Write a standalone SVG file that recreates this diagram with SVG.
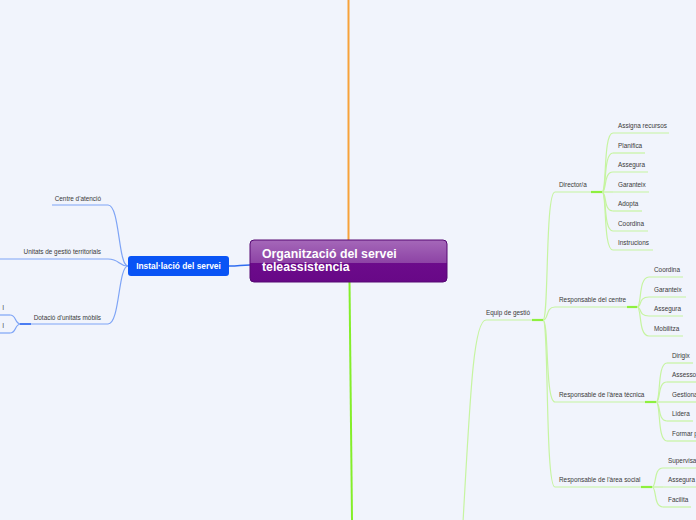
<svg xmlns="http://www.w3.org/2000/svg" width="696" height="520" viewBox="0 0 696 520">
<defs>
<linearGradient id="cg" x1="0" y1="0" x2="0" y2="1">
<stop offset="0" stop-color="#a568b9"/>
<stop offset="0.55" stop-color="#8d43a5"/>
<stop offset="0.55" stop-color="#6c0b8b"/>
<stop offset="1" stop-color="#680887"/>
</linearGradient>
<style>
.t{font-family:"Liberation Sans",Arial,sans-serif;font-size:6.4px;fill:#3a3a3a}
.e{text-anchor:end}
.g{fill:none;stroke:#c6f4a0;stroke-width:1.2}
.gb{fill:none;stroke:#8ef03e;stroke-width:2.2}
.b{fill:none;stroke:#7ea4f6;stroke-width:1.2}
.bb{fill:none;stroke:#4a7cf2;stroke-width:2}
</style>
</defs>
<rect width="696" height="520" fill="#f1f4fc"/>
<g id="connectors">
<path d="M348.5,0 L348.5,240" stroke="#f7a23a" stroke-width="2" fill="none"/>
<path d="M349.5,282 L352,520" stroke="#84ee2a" stroke-width="2" fill="none"/>
<path d="M250,265 C240,265 240,266 229,266" stroke="#2f6cf0" stroke-width="1.5" fill="none"/>
<path class="b" d="M128,266 C118,266 120,205 108,205"/>
<path class="b" d="M128,266 C118,266 120,259 108,259"/>
<path class="b" d="M128,266 C118,266 120,324 108,324"/>
<path class="b" d="M21,324 C14,324 17,315 10,315"/>
<path class="b" d="M21,324 C14,324 17,333 10,333"/>
<path class="g" d="M462,540 C470,400 473,320 486,320"/>
<path class="g" d="M543,320 C549,320 545,192 555,192"/>
<path class="g" d="M543,320 C549,320 545,307 555,307"/>
<path class="g" d="M543,320 C549,320 545,402 555,402"/>
<path class="g" d="M543,320 C549,320 545,487 555,487"/>
<path class="g" d="M602,192 C607,192 603,133 613,133"/>
<path class="g" d="M602,192 C607,192 603,153 613,153"/>
<path class="g" d="M602,192 C607,192 603,172 613,172"/>
<path class="g" d="M602,192 L613,192"/>
<path class="g" d="M602,192 C607,192 603,211 613,211"/>
<path class="g" d="M602,192 C607,192 603,231 613,231"/>
<path class="g" d="M602,192 C607,192 603,250 613,250"/>
<path class="g" d="M637,307 C642,307 638,277 649,277"/>
<path class="g" d="M637,307 C642,307 638,297 649,297"/>
<path class="g" d="M637,307 C642,307 638,316 649,316"/>
<path class="g" d="M637,307 C642,307 638,336 649,336"/>
<path class="g" d="M656,402 C661,402 657,363 667,363"/>
<path class="g" d="M656,402 C661,402 657,382 667,382"/>
<path class="g" d="M656,402 L667,402"/>
<path class="g" d="M656,402 C661,402 657,421 667,421"/>
<path class="g" d="M656,402 C661,402 657,441 667,441"/>
<path class="g" d="M652,487 C657,487 653,468 663,468"/>
<path class="g" d="M652,487 L663,487"/>
<path class="g" d="M652,487 C657,487 653,507 663,507"/>
</g>
<g id="central">
<rect x="250" y="240" width="197" height="42" rx="4" fill="url(#cg)" stroke="#560873" stroke-width="1"/>
<text x="262" y="258" font-family="Liberation Sans,Arial,sans-serif" font-weight="bold" font-size="12.3" fill="#fff">Organització del servei</text>
<text x="262" y="271" font-family="Liberation Sans,Arial,sans-serif" font-weight="bold" font-size="12.3" fill="#fff">teleassistencia</text>
</g>
<g id="installacio">
<rect x="128" y="256" width="101" height="20" rx="3" fill="#0a54f5"/>
<text x="178.5" y="269" text-anchor="middle" font-family="Liberation Sans,Arial,sans-serif" font-weight="bold" font-size="8.4" fill="#fff">Instal·lació del servei</text>
</g>
<g id="centre-atencio"><line class="b" x1="52" y1="205" x2="108" y2="205"/><text class="t e" x="101" y="201">Centre d'atenció</text></g>
<g id="unitats-gestio"><line class="b" x1="0" y1="259" x2="108" y2="259"/><text class="t e" x="101" y="254">Unitats de gestió territorials</text></g>
<g id="dotacio"><line class="b" x1="20" y1="324" x2="108" y2="324"/><line class="bb" x1="20" y1="324" x2="31" y2="324"/><text class="t e" x="101" y="320">Dotació d'unitats mòbils</text></g>
<g id="dotacio-1"><line class="b" x1="0" y1="315" x2="10" y2="315"/><text class="t e" x="4" y="310">l</text></g>
<g id="dotacio-2"><line class="b" x1="0" y1="333" x2="10" y2="333"/><text class="t e" x="4" y="328">l</text></g>
<g id="equip"><line class="g" x1="486" y1="320" x2="543" y2="320"/><line class="gb" x1="532" y1="320" x2="543" y2="320"/><text class="t" x="486" y="315">Equip de gestió</text></g>
<g id="director"><line class="g" x1="555" y1="192" x2="602" y2="192"/><line class="gb" x1="591" y1="192" x2="602" y2="192"/><text class="t" x="559" y="187">Director/a</text></g>
<g id="resp-centre"><line class="g" x1="555" y1="307" x2="637" y2="307"/><line class="gb" x1="627" y1="307" x2="637" y2="307"/><text class="t" x="559" y="302">Responsable del centre</text></g>
<g id="resp-tecnica"><line class="g" x1="555" y1="402" x2="656" y2="402"/><line class="gb" x1="645" y1="402" x2="656" y2="402"/><text class="t" x="559" y="397">Responsable de l'àrea tècnica</text></g>
<g id="resp-social"><line class="g" x1="555" y1="487" x2="652" y2="487"/><line class="gb" x1="641" y1="487" x2="652" y2="487"/><text class="t" x="559" y="482">Responsable de l'àrea social</text></g>
<g id="d1"><line class="g" x1="613" y1="133" x2="669" y2="133"/><text class="t" x="618" y="128">Assigna recursos</text></g>
<g id="d2"><line class="g" x1="613" y1="153" x2="645" y2="153"/><text class="t" x="618" y="148">Planifica</text></g>
<g id="d3"><line class="g" x1="613" y1="172" x2="648" y2="172"/><text class="t" x="618" y="167">Assegura</text></g>
<g id="d4"><line class="g" x1="613" y1="192" x2="649" y2="192"/><text class="t" x="618" y="187">Garanteix</text></g>
<g id="d5"><line class="g" x1="613" y1="211" x2="642" y2="211"/><text class="t" x="618" y="206">Adopta</text></g>
<g id="d6"><line class="g" x1="613" y1="231" x2="648" y2="231"/><text class="t" x="618" y="226">Coordina</text></g>
<g id="d7"><line class="g" x1="613" y1="250" x2="653" y2="250"/><text class="t" x="618" y="245">Instrucions</text></g>
<g id="c1"><line class="g" x1="649" y1="277" x2="683" y2="277"/><text class="t" x="654" y="272">Coordina</text></g>
<g id="c2"><line class="g" x1="649" y1="297" x2="686" y2="297"/><text class="t" x="654" y="292">Garanteix</text></g>
<g id="c3"><line class="g" x1="649" y1="316" x2="683" y2="316"/><text class="t" x="654" y="311">Assegura</text></g>
<g id="c4"><line class="g" x1="649" y1="336" x2="683" y2="336"/><text class="t" x="654" y="331">Mobilitza</text></g>
<g id="t1"><line class="g" x1="667" y1="363" x2="693" y2="363"/><text class="t" x="672" y="358">Dirigix</text></g>
<g id="t2"><line class="g" x1="667" y1="382" x2="696" y2="382"/><text class="t" x="672" y="377">Assessor</text></g>
<g id="t3"><line class="g" x1="667" y1="402" x2="696" y2="402"/><text class="t" x="672" y="397">Gestiona</text></g>
<g id="t4"><line class="g" x1="667" y1="421" x2="693" y2="421"/><text class="t" x="672" y="416">Lidera</text></g>
<g id="t5"><line class="g" x1="667" y1="441" x2="696" y2="441"/><text class="t" x="672" y="436">Formar p</text></g>
<g id="s1"><line class="g" x1="663" y1="468" x2="696" y2="468"/><text class="t" x="668" y="463">Supervisa</text></g>
<g id="s2"><line class="g" x1="663" y1="487" x2="696" y2="487"/><text class="t" x="668" y="482">Assegura</text></g>
<g id="s3"><line class="g" x1="663" y1="507" x2="691" y2="507"/><text class="t" x="668" y="502">Facilita</text></g>
</svg>
